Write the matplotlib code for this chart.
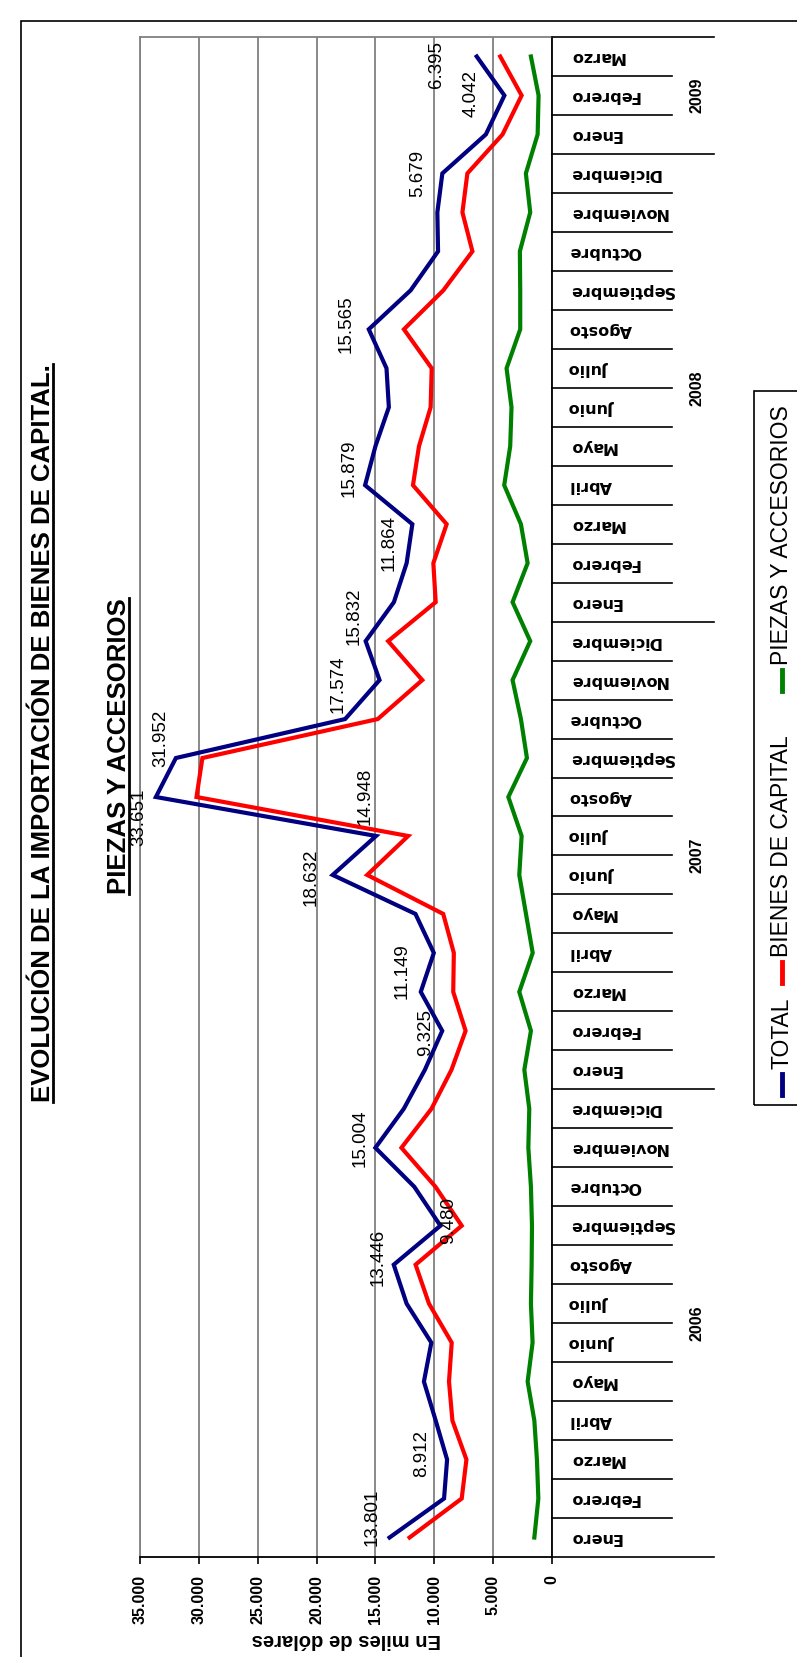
import matplotlib
matplotlib.use("Agg")
import matplotlib.pyplot as plt
from matplotlib.lines import Line2D
from matplotlib.patches import Rectangle

months = ["Enero", "Febrero", "Marzo", "Abril", "Mayo", "Junio", "Julio",
          "Agosto", "Septiembre", "Octubre", "Noviembre", "Diciembre"]
years = ["2006", "2007", "2008", "2009"]
year_len = [12, 12, 12, 3]
categories = months * 3 + months[:3]

total = [13801, 9170, 8912, 9880, 10880, 10250, 12350, 13446, 9480, 11700,
         15004, 12590, 10800, 9325, 11149, 10040, 11600, 18632, 14948, 33651,
         31952, 17574, 14650, 15832, 13430, 12350, 11864, 15879, 15000, 13860,
         14060, 15565, 12010, 9680, 9740, 9315, 5620, 4042, 6395]
bienes = [12100, 7670, 7270, 8460, 8750, 8520, 10450, 11590, 7670, 9900,
          12790, 10240, 8540, 7340, 8390, 8340, 9240, 15700, 12220, 30200,
          29700, 14800, 11020, 13920, 9880, 10080, 8950, 11810, 11300, 10310,
          10220, 12580, 9230, 6760, 7610, 7190, 4200, 2580, 4400]
piezas = [1500, 1160, 1280, 1500, 2070, 1650, 1790, 1730, 1700, 1790,
          2010, 1930, 2350, 1790, 2780, 1640, 2210, 2780, 2580, 3710,
          2130, 2640, 3350, 1850, 3350, 2070, 2640, 4060, 3550, 3440,
          3860, 2700, 2700, 2730, 1850, 2220, 1220, 1140, 1790]

label_idx = [0, 2, 7, 8, 10, 13, 14, 17, 18, 19, 20, 21, 23, 26, 27, 31, 35, 37, 38]
label_text = ["13.801", "8.912", "13.446", "9.480", "15.004", "9.325", "11.149",
              "18.632", "14.948", "33.651", "31.952", "17.574", "15.832", "11.864",
              "15.879", "15.565", "5.679", "4.042", "6.395"]
# pixel offsets of each label from its point
label_off = [(-17, 20), (-25, 6), (-16, 7), (8, 5), (-15, 10), (-17, -2), (-19, 21),
             (-22, -2), (-11, 40), (-17, -20), (-15, 20), (-7, 35), (-12, 25),
             (-23, -19), (-16, 17), (-23, 5), (-25, 0), (-33, 2), (-40, -8)]

W, H = 797, 1657
plt.rcParams["font.family"] = ["Liberation Sans", "DejaVu Sans"]


def fx(px):
    return px / W


def fy(py):
    return 1 - py / H


fig = plt.figure(figsize=(W / 100, H / 100), dpi=100)
fig.patch.set_facecolor("white")

left, right, top, bottom = 140, 552, 37, 1557
ax = fig.add_axes([fx(left), fy(bottom), fx(right - left), (bottom - top) / H])
n = len(categories)
idx = list(range(n))

ax.plot(total, idx, color="#000080", lw=3.0, solid_joinstyle="miter", zorder=3)
ax.plot(bienes, idx, color="#FF0000", lw=3.0, solid_joinstyle="miter", zorder=3)
ax.plot(piezas, idx, color="#008000", lw=3.0, solid_joinstyle="miter", zorder=3)

ax.set_xlim(35000, 0)
ax.set_ylim(-0.5, n - 0.5)
ticks = list(range(0, 35001, 5000))
ax.set_xticks(ticks)
ax.set_xticklabels(["0" if t == 0 else f"{t // 1000}.000" for t in ticks],
                   rotation=90, fontsize=11.5, fontweight="bold")
ax.tick_params(axis="x", length=5, width=1.2, pad=8, color="black")
ax.set_yticks([])
ax.grid(axis="x", color="#808080", lw=1.3, zorder=1)
for s in ["left", "top"]:
    ax.spines[s].set_color("#808080")
    ax.spines[s].set_linewidth(1.3)
for s in ["right", "bottom"]:
    ax.spines[s].set_color("black")
    ax.spines[s].set_linewidth(1.3)

for i, txt, (dx, dy) in zip(label_idx, label_text, label_off):
    ax.annotate(txt, (total[i], i), xytext=(dx, dy), textcoords="offset pixels",
                rotation=90, ha="center", va="center", fontsize=13.5, zorder=4)

ax.text(0.5, -0.054, "En miles de dólares", transform=ax.transAxes, rotation=180,
        ha="center", va="center", fontsize=14.5, fontweight="bold")

# category table on the right
tax = fig.add_axes([fx(right), fy(bottom), fx(714 - right), (bottom - top) / H])
tax.set_xlim(0, 1)
tax.set_ylim(-0.5, n - 0.5)
tax.axis("off")
bounds = [0]
for L in year_len:
    bounds.append(bounds[-1] + L)
for b in range(n + 1):
    x1 = 1.0 if b in bounds else 120 / 162
    tax.plot([0, x1], [b - 0.5, b - 0.5], color="black", lw=1.2, clip_on=False)
for i, m in enumerate(categories):
    tax.text(17 / 162, i, m, rotation=180, ha="left", va="center",
             fontsize=11.5, fontweight="bold", family=["DejaVu Sans"])
for y, b0, b1 in zip(years, bounds[:-1], bounds[1:]):
    tax.text(145 / 162, (b0 + b1 - 1) / 2, y, rotation=90, ha="center",
             va="center", fontsize=11.5, fontweight="bold")

# title
t1 = fig.text(fx(43), fy(733), "EVOLUCIÓN DE LA IMPORTACIÓN DE BIENES DE CAPITAL.",
              rotation=90, ha="center", va="center", fontsize=18.5,
              fontweight="bold")
t2 = fig.text(fx(119), fy(746), "PIEZAS Y ACCESORIOS", rotation=90, ha="center",
              va="center", fontsize=18.5, fontweight="bold")

# legend (box runs past the right edge of the picture)
fig.patches.append(Rectangle((fx(754), fy(1105)), fx(830 - 754), (1105 - 391) / H,
                             transform=fig.transFigure, fill=False,
                             edgecolor="black", lw=1.2, clip_on=False))
legend_items = [("TOTAL", "#000080", 1095), ("BIENES DE CAPITAL", "#FF0000", 983),
                ("PIEZAS Y ACCESORIOS", "#008000", 691)]
for name, col, y0 in legend_items:
    fig.lines.append(Line2D([fx(782), fx(782)], [fy(y0), fy(y0 - 21)],
                            transform=fig.transFigure, color=col, lw=3.5))
    fig.text(fx(782), fy(y0 - 26), name, rotation=90, ha="center", va="bottom",
             fontsize=16.5)

# outer border (right and bottom sides fall outside the picture)
fig.patches.append(Rectangle((fx(21), fy(1700)), fx(840 - 21), (1700 - 21) / H,
                             transform=fig.transFigure, fill=False,
                             edgecolor="black", lw=1.2))

# underline title lines
fig.canvas.draw()
r = fig.canvas.get_renderer()
for t in (t1, t2):
    bb = t.get_window_extent(r)
    xline = bb.x1 - 2
    fig.lines.append(Line2D([xline / W, xline / W], [bb.y0 / H, bb.y1 / H],
                            transform=fig.transFigure, color="black", lw=2))

fig.savefig("out.png", dpi=100)
